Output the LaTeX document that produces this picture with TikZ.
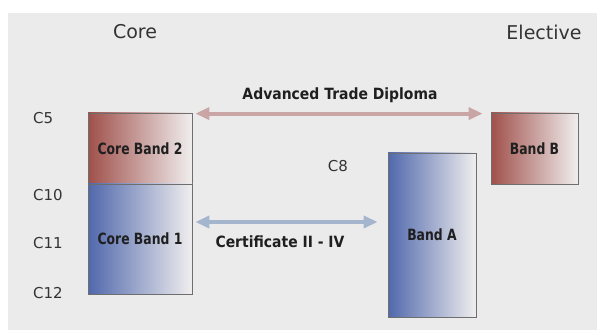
\documentclass[tikz,border=0pt]{standalone}
\usepackage{fontspec}
\setmainfont{DejaVu Sans}
\newfontfamily\arrfont[FakeStretch=0.9]{DejaVu Sans}
\newfontfamily\boxfont[FakeStretch=0.8]{DejaVu Sans}
\usetikzlibrary{arrows.meta}
\definecolor{bg}{HTML}{EBEBEB}
\definecolor{redL}{HTML}{A0504B}
\definecolor{blueL}{HTML}{5068AC}
\definecolor{fadeR}{HTML}{F0EEEE}
\definecolor{arrR}{HTML}{C9A5A5}
\definecolor{arrB}{HTML}{A6B5CE}
\definecolor{txt}{HTML}{333333}
\definecolor{edge}{HTML}{6E6E6E}
\tikzset{
  bandbox/.style={draw=edge, line width=0.8pt, inner sep=0pt, font=\boxfont\fontsize{15.5}{17}\selectfont\bfseries, text=black!88},
  redband/.style={bandbox, left color=redL, middle color=redL!35!fadeR, right color=fadeR},
  blueband/.style={bandbox, left color=blueL, middle color=blueL!35!fadeR, right color=fadeR},
  lvl/.style={font=\fontsize{15}{17}\selectfont, text=txt, anchor=west, inner sep=0pt},
  head/.style={font=\fontsize{19}{21}\selectfont, text=txt, inner sep=0pt},
  arrlabel/.style={font=\arrfont\fontsize{15.5}{17}\selectfont\bfseries, text=black!88, inner sep=0pt},
  bigarrow/.style={line width=4pt, {Triangle[length=14pt,width=12pt]}-{Triangle[length=14pt,width=12pt]}}
}
\begin{document}
\begin{tikzpicture}[x=1pt,y=-1pt]
\useasboundingbox (0,0) rectangle (597,331);
\fill[white] (0,0) rectangle (597,331);
\fill[bg] (8,13) rectangle (597,330);
% headings
\node[head] (core) at (135,32) {Core};
\node[head] (elective) at (544,32) {Elective};
% level labels
\node[lvl] (c5) at (33,118) {C5};
\node[lvl] (c10) at (33,195) {C10};
\node[lvl] (c11) at (33,243) {C11};
\node[lvl] (c12) at (33,293) {C12};
\node[lvl, anchor=center] (c8) at (338,166) {C8};
% boxes
\node[redband, minimum width=104pt, minimum height=71pt] (cb2) at (140,148.5) {Core Band 2};
\node[blueband, minimum width=104pt, minimum height=110pt] (cb1) at (140,239) {Core Band 1};
\node[blueband, minimum width=88pt, minimum height=164pt] (ba) at (432,235) {Band A};
\node[redband, minimum width=87pt, minimum height=71pt] (bb) at (534.5,148.5) {Band B};
% arrows
\coordinate (d1) at ([xshift=3pt,yshift=-1pt]cb2.north east);
\coordinate (d2) at ([xshift=-8pt,yshift=-1pt]bb.north west);
\draw[bigarrow, arrR] (d1) -- (d2);
\node[arrlabel] (dip) at (340,95) {Advanced Trade Diploma};
\coordinate (e1) at ([xshift=3pt,yshift=17pt]cb1.east);
\coordinate (e2) at (ba.west |- e1);
\coordinate (e2s) at ([xshift=-10pt]e2);
\draw[bigarrow, arrB] (e1) -- (e2s);
\node[arrlabel] (cert) at (280,242) {Certificate II - IV};
\end{tikzpicture}
\end{document}
